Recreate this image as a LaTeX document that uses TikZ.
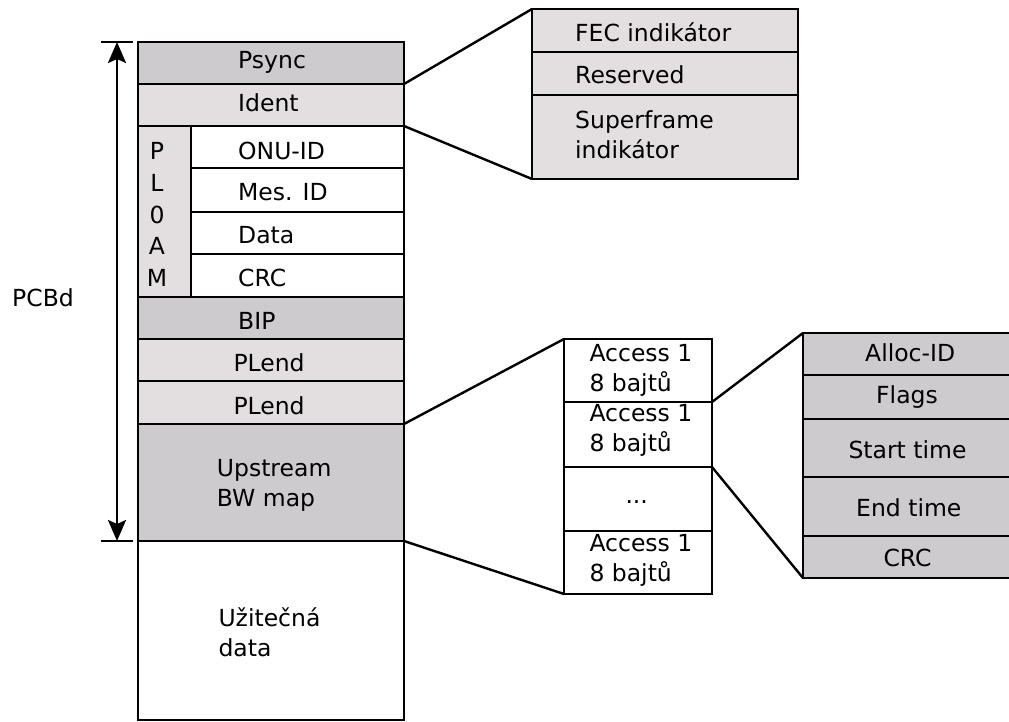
\documentclass[tikz,border=0pt]{standalone}
\usepackage{fontspec}
\setmainfont{DejaVu Sans}
\usetikzlibrary{arrows.meta}
\definecolor{fielddark}{RGB}{205,203,205}
\definecolor{fieldlight}{RGB}{227,222,223}
\tikzset{
  field/.style={draw=black, line width=2.6pt, inner sep=0pt, outer sep=0pt,
                anchor=north west, rectangle},
  dark/.style={field, fill=fielddark},
  light/.style={field, fill=fieldlight},
  plain/.style={field, fill=white},
  lbl/.style={anchor=base west, inner sep=0pt, font=\fontsize{23.5}{29.5}\selectfont},
  clbl/.style={anchor=base, inner sep=0pt, font=\fontsize{23.5}{29.5}\selectfont},
  zoomline/.style={line width=2.4pt},
  dimline/.style={line width=2.4pt, {Stealth[length=21pt,width=18pt,inset=4pt]}-{Stealth[length=21pt,width=18pt,inset=4pt]}},
}
\begin{document}
\begin{tikzpicture}[x=1pt,y=-1pt]
\clip (0,0) rectangle (1009,722);

% --- downstream frame column ---
\node[dark,  minimum width=266pt, minimum height=42pt]  (psync)  at (138,42)  {};
\node[light, minimum width=266pt, minimum height=42pt]  (ident)  at (138,84)  {};
\node[light, minimum width=53pt,  minimum height=171pt] (ploam)  at (138,126) {};
\node[plain, minimum width=213pt, minimum height=42pt]  (onuid)  at (191,126) {};
\node[plain, minimum width=213pt, minimum height=44pt]  (mesid)  at (191,168) {};
\node[plain, minimum width=213pt, minimum height=42pt]  (pdata)  at (191,212) {};
\node[plain, minimum width=213pt, minimum height=43pt]  (pcrc)   at (191,254) {};
\node[dark,  minimum width=266pt, minimum height=42pt]  (bip)    at (138,297) {};
\node[light, minimum width=266pt, minimum height=42pt]  (plendA) at (138,339) {};
\node[light, minimum width=266pt, minimum height=43pt]  (plendB) at (138,381) {};
\node[dark,  minimum width=266pt, minimum height=117pt] (bwmap)  at (138,424) {};
\node[plain, minimum width=266pt, minimum height=179pt] (payload) at (138,541) {};

\node[lbl] (tpsync) at (238,68.3)  {Psync};
\node[lbl] (tident) at (238,111.7) {Ident};
\node[lbl] (tonu)   at (238,159.3) {ONU-ID};
\node[lbl] (tmes)   at (238,200.7) {Mes. ID};
\node[lbl] (tdata)  at (238,243.3) {Data};
\node[lbl] (tcrc)   at (238,286)   {CRC};
\node[clbl] (tp1) at (157,159.3) {P};
\node[clbl] (tp2) at (157,191.2) {L};
\node[clbl] (tp3) at (157,223)   {0};
\node[clbl] (tp4) at (157,254.9) {A};
\node[clbl] (tp5) at (157,286.7) {M};
\node[lbl] (tbip)    at (238,329.3)   {BIP};
\node[lbl] (tplendA) at (233.3,371)   {PLend};
\node[lbl] (tplendB) at (233.3,414)   {PLend};
\node[lbl] (tbw1)    at (216.7,476.7) {Upstream};
\node[lbl] (tbw2)    at (216.7,506.7) {BW map};
\node[lbl] (tpay1)   at (218.3,626.7) {Užitečná};
\node[lbl] (tpay2)   at (218.3,656.7) {data};

% --- PCBd extent ---
\coordinate (dtop) at (117,42);
\coordinate (dbot) at (117,541);
\coordinate (ttl) at (101,42);  \coordinate (ttr) at (133,42);
\coordinate (tbl) at (101,541); \coordinate (tbr) at (133,541);
\draw[zoomline] (ttl) -- (ttr);
\draw[zoomline] (tbl) -- (tbr);
\draw[dimline] (dtop) -- (dbot);
\node[lbl] (tpcbd) at (12,306) {PCBd};

% --- Ident detail ---
\node[light, minimum width=266pt, minimum height=43pt] (fec)   at (532,9)  {};
\node[light, minimum width=266pt, minimum height=43pt] (resv)  at (532,52) {};
\node[light, minimum width=266pt, minimum height=84pt] (sfi)   at (532,95) {};
\node[lbl] (tfec)  at (575,41.7)  {FEC indikátor};
\node[lbl] (tresv) at (575,83.3)  {Reserved};
\node[lbl] (tsf1)  at (575,128.3) {Superframe};
\node[lbl] (tsf2)  at (575,158.3) {indikátor};
\draw[zoomline] (ident.north east) -- (fec.north west);
\draw[zoomline] (ident.south east) -- (sfi.south west);

% --- Upstream BW map detail ---
\node[plain, minimum width=148pt, minimum height=63pt] (accA) at (564,339) {};
\node[plain, minimum width=148pt, minimum height=65pt] (accB) at (564,402) {};
\node[plain, minimum width=148pt, minimum height=64pt] (accD) at (564,467) {};
\node[plain, minimum width=148pt, minimum height=63pt] (accC) at (564,531) {};
\node[lbl] (taA1) at (589.3,361.7) {Access 1};
\node[lbl] (taA2) at (589.3,391)   {8 bajtů};
\node[lbl] (taB1) at (589.3,421.7) {Access 1};
\node[lbl] (taB2) at (589.3,451.7) {8 bajtů};
\node[clbl] (taD) at (636.7,503.3) {...};
\node[lbl] (taC1) at (589.3,551.7) {Access 1};
\node[lbl] (taC2) at (589.3,581)   {8 bajtů};
\draw[zoomline] (plendB.south east) -- (accA.north west);
\draw[zoomline] (bwmap.south east) -- (accC.south west);

% --- Access record detail ---
\node[dark, minimum width=208pt, minimum height=42pt] (alloc) at (803,333) {};
\node[dark, minimum width=208pt, minimum height=44pt] (flags) at (803,375) {};
\node[dark, minimum width=208pt, minimum height=58pt] (start) at (803,419) {};
\node[dark, minimum width=208pt, minimum height=59pt] (endt)  at (803,477) {};
\node[dark, minimum width=208pt, minimum height=42pt] (acrc)  at (803,536) {};
\node[lbl] (talloc) at (865,361.7)   {Alloc-ID};
\node[lbl] (tflags) at (876,403.3)   {Flags};
\node[lbl] (tstart) at (848.3,458.3) {Start time};
\node[lbl] (tend)   at (856,516.7)   {End time};
\node[lbl] (tacrc)  at (883.3,566.7) {CRC};
\draw[zoomline] (accA.south east) -- (alloc.north west);
\draw[zoomline] (accB.south east) -- (acrc.south west);
\end{tikzpicture}
\end{document}
